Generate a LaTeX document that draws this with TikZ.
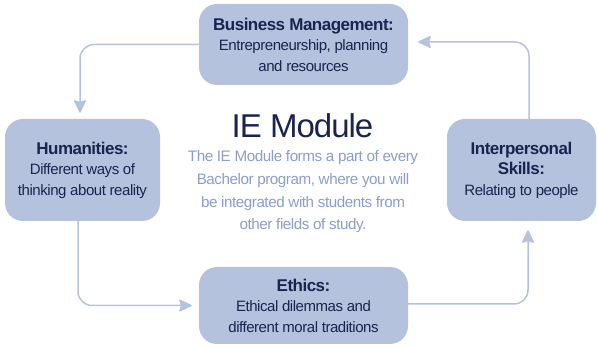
\documentclass[tikz,border=0pt]{standalone}
\usepackage{fontspec}
\setmainfont{Liberation Sans}[LetterSpace=-3]
\usetikzlibrary{arrows.meta}
\definecolor{boxfill}{HTML}{B4C2DE}
\definecolor{navy}{HTML}{1B2350}
\definecolor{para}{HTML}{8C9DCA}
\definecolor{arrowc}{HTML}{B4C3DF}
\tikzset{
  topic/.style={fill=boxfill, rounded corners=18pt, align=center, inner sep=0pt,
    text=navy, font=\fontsize{15}{20.5}\selectfont},
  flow/.style={draw=arrowc, line width=1.5pt, rounded corners=14pt,
    -{Stealth[length=14pt,width=13pt,inset=2pt,round]}},
  parat/.style={anchor=base, text=para, font=\fontsize{15.2}{17}\selectfont, inner sep=0pt},
}
\newcommand{\hd}[1]{{\fontsize{17}{20.5}\selectfont\bfseries #1}}
\begin{document}
\begin{tikzpicture}[x=1pt,y=-1pt]
\useasboundingbox (0,0) rectangle (598,347);
\node[topic, minimum width=209pt, minimum height=81pt] (bus) at (303.5,44.5)
  {\hd{Business Management:}\\Entrepreneurship, planning\\and resources};
\node[topic, minimum width=155pt, minimum height=102pt] (hum) at (82.5,170)
  {\hd{Humanities:}\\Different ways of\\thinking about reality};
\node[topic, minimum width=149pt, minimum height=102pt] (int) at (521.5,170)
  {\hd{Interpersonal}\\\hd{Skills:}\\Relating to people};
\node[topic, minimum width=209pt, minimum height=77pt] (eth) at (303.5,305.5)
  {\hd{Ethics:}\\Ethical dilemmas and\\different moral traditions};
\node[anchor=base, text=navy, inner sep=0pt, font=\fontsize{33}{33}\selectfont] (title) at (302.5,138) {IE Module};
\node[parat] (p1) at (303,162) {The IE Module forms a part of every};
\node[parat] (p2) at (303,185) {Bachelor program, where you will};
\node[parat] (p3) at (303,207.5) {be integrated with students from};
\node[parat] (p4) at (303,230) {other fields of study.};
\draw[flow, shorten >=6pt] (bus.west) -| ([xshift=-2.5pt]hum.north);
\draw[flow, shorten >=7pt] ([xshift=-4.5pt]hum.south) |- (eth.west);
\draw[flow, shorten >=9pt] ([yshift=1.5pt]eth.east) -| ([xshift=6.5pt]int.south);
\draw[flow, shorten >=10pt] ([xshift=7.5pt]int.north) |- ([yshift=2.5pt]bus.east);
\end{tikzpicture}
\end{document}
